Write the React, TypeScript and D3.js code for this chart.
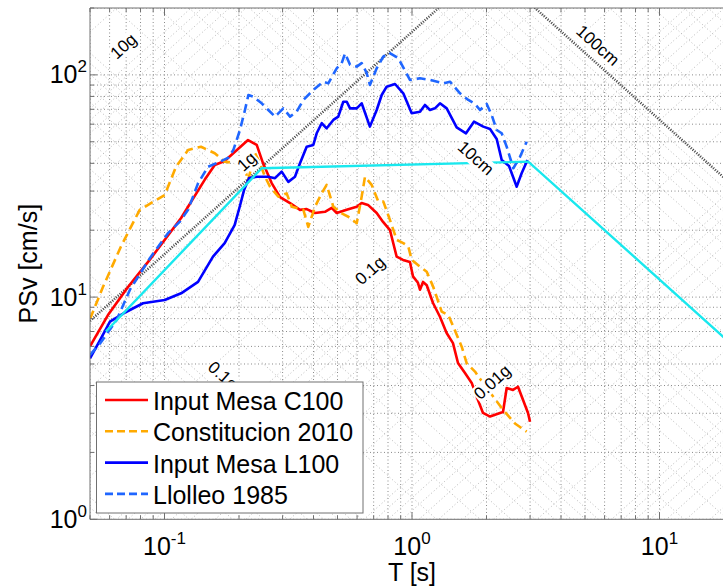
import React, { useEffect, useRef } from 'react';
import * as d3 from 'd3';

// periods T [s] and pseudo-velocity PSv [cm/s]
const c100T = [0.05, 0.0591, 0.0712, 0.0871, 0.1167, 0.1453, 0.1596, 0.175, 0.2175, 0.2358, 0.25, 0.271, 0.293, 0.3215, 0.3527, 0.3754, 0.4055, 0.445, 0.4737, 0.4963, 0.5445, 0.5978, 0.626, 0.664, 0.72, 0.764, 0.815, 0.867, 0.92, 0.981, 1.009, 1.057, 1.077, 1.108, 1.147, 1.216, 1.297, 1.38, 1.464, 1.534, 1.637, 1.743, 1.848, 1.936, 2.067, 2.268, 2.332, 2.413, 2.559, 2.681, 2.943, 2.998];
const c100V = [6.0, 8.3, 11.1, 14.7, 22.7, 33.7, 39.3, 41.0, 50.9, 48.4, 40.1, 32.6, 28.2, 26.5, 24.7, 24.9, 23.9, 24.2, 25.2, 23.9, 24.7, 25.5, 26.5, 26.0, 23.9, 21.8, 20.0, 15.2, 14.7, 14.4, 12.4, 11.6, 10.8, 11.7, 11.3, 9.41, 8.16, 6.89, 6.21, 5.05, 4.55, 4.11, 3.44, 3.01, 2.9, 3.01, 3.04, 3.9, 3.82, 3.95, 3.01, 2.75];

const consT = [0.05, 0.0564, 0.0667, 0.0794, 0.1002, 0.1113, 0.1245, 0.1404, 0.1596, 0.175, 0.196, 0.2076, 0.2175, 0.2322, 0.2432, 0.2547, 0.2668, 0.2884, 0.3116, 0.3266, 0.364, 0.381, 0.4055, 0.4315, 0.452, 0.481, 0.52, 0.553, 0.598, 0.626, 0.6457, 0.687, 0.731, 0.766, 0.815, 0.867, 0.922, 0.966, 0.997, 1.077, 1.147, 1.219, 1.318, 1.402, 1.469, 1.588, 1.663, 1.797, 1.941, 2.131, 2.339, 2.606, 2.906];
const consV = [7.97, 11.1, 16.9, 24.7, 28.8, 38.6, 45.9, 47.5, 44.4, 40.7, 40.0, 40.7, 33.5, 44.4, 40.0, 34.8, 31.4, 28.3, 29.3, 25.5, 24.7, 20.7, 25.5, 29.3, 32.0, 25.5, 23.8, 23.0, 21.5, 28.3, 34.8, 32.0, 26.9, 26.9, 22.2, 18.1, 17.5, 16.9, 14.7, 13.7, 13.0, 11.1, 8.6, 8.3, 7.36, 5.98, 5.04, 4.62, 4.09, 3.56, 3.1, 2.7, 2.48];

const l100T = [0.05, 0.0549, 0.0602, 0.0699, 0.0819, 0.1002, 0.1167, 0.1366, 0.157, 0.175, 0.192, 0.2013, 0.2096, 0.2195, 0.2364, 0.2627, 0.2796, 0.2975, 0.3164, 0.3366, 0.3527, 0.3754, 0.3993, 0.412, 0.4317, 0.452, 0.481, 0.5037, 0.5277, 0.545, 0.5619, 0.598, 0.626, 0.676, 0.72, 0.7544, 0.79, 0.854, 0.922, 0.997, 1.077, 1.128, 1.182, 1.238, 1.297, 1.381, 1.515, 1.653, 1.78, 1.941, 2.067, 2.199, 2.304, 2.466, 2.649, 2.773, 2.928];
const l100V = [5.3, 6.4, 7.75, 8.57, 9.38, 9.7, 10.4, 11.7, 15.2, 17.5, 21.1, 25.5, 30.3, 34.3, 34.8, 34.8, 34.3, 36.7, 33.0, 34.8, 40.0, 47.5, 48.4, 54.6, 60.6, 57.5, 62.7, 64.9, 75.7, 75.7, 70.7, 70.7, 74.5, 58.5, 69.5, 81.2, 88.5, 91.0, 82.6, 67.2, 68.3, 73.2, 69.5, 70.7, 74.5, 70.7, 58.0, 54.6, 61.6, 58.5, 57.1, 51.5, 41.4, 38.9, 31.4, 36.1, 41.4];

const lloT = [0.05, 0.0549, 0.0641, 0.0725, 0.0874, 0.1033, 0.1151, 0.1245, 0.1366, 0.15, 0.1676, 0.1806, 0.1897, 0.2018, 0.2114, 0.2182, 0.2285, 0.247, 0.2627, 0.2796, 0.302, 0.3215, 0.342, 0.364, 0.3993, 0.4383, 0.459, 0.4963, 0.52, 0.5364, 0.562, 0.598, 0.626, 0.656, 0.676, 0.72, 0.766, 0.807, 0.88, 0.981, 1.077, 1.182, 1.338, 1.424, 1.563, 1.689, 1.797, 1.883, 2.004, 2.099, 2.199, 2.304, 2.413, 2.567, 2.732, 2.906];
const lloV = [5.49, 6.19, 7.89, 10.8, 15.0, 19.4, 21.8, 24.7, 32.5, 38.6, 40.7, 42.3, 45.9, 56.5, 69.5, 81.2, 79.8, 74.5, 69.5, 64.9, 70.7, 64.9, 68.3, 77.1, 85.5, 93.2, 91.6, 107, 113, 125, 111, 109, 113, 102, 90.1, 107, 121, 126, 119, 94.9, 96.5, 94.9, 91.6, 93.2, 82.6, 77.1, 74.0, 69.5, 74.0, 66.0, 56.5, 54.6, 47.5, 38.0, 42.8, 50.0];

// design spectrum (cyan)
const designT = [0.058, 0.247, 2.95, 20];
const designV = [7.0, 38.0, 40.7, 6.0];

const legendNames = ['Input Mesa C100', 'Constitucion 2010', 'Input Mesa L100', 'Llolleo 1985'];

const xTicks = [0.1, 1, 10];
const xTickExp = ['-1', '0', '1'];
const yTicks = [1, 10, 100];
const yTickExp = ['0', '1', '2'];

// tripartite annotations (text, where it sits in T / PSv)
const diagText = ['10g', '1g', '0.1g', '0.01g', '10cm', '100cm', '0.1cm'];
const diagT = [0.0681, 0.2144, 0.676, 2.105, 1.814, 5.64, 0.1806];
const diagV = [134.9, 40.8, 13.2, 4.15, 42.3, 136, 4.24];

const G = 981; // cm/s2

function App() {
  const ref = useRef(null);

  useEffect(() => {
    const svg = d3.select(ref.current);
    svg.selectAll('*').remove();

    const left = 90, right = 734, top = 8, bottom = 519.3;
    const x = d3.scaleLog().domain([0.05, 20]).range([left, right]);
    const y = d3.scaleLog().domain([1, 200]).range([bottom, top]);
    const font = '"Liberation Sans", Arial, sans-serif';

    svg.append('rect').attr('width', 723).attr('height', 588).attr('fill', '#fff');

    svg.append('clipPath').attr('id', 'plotclip')
      .append('rect').attr('x', left).attr('y', top)
      .attr('width', right - left).attr('height', bottom - top);

    const plot = svg.append('g').attr('clip-path', 'url(#plotclip)');

    // minor/major positions for grid
    const xGrid = [];
    const yGrid = [];
    for (let e = -2; e <= 2; e++) {
      for (let k = 1; k <= 9; k++) {
        const v = k * Math.pow(10, e);
        if (v >= 0.05 && v <= 20) xGrid.push(v);
        if (v >= 1 && v <= 200) yGrid.push(v);
      }
    }

    plot.selectAll('.vgrid').data(xGrid).enter().append('line')
      .attr('x1', d => x(d)).attr('x2', d => x(d))
      .attr('y1', top).attr('y2', bottom)
      .attr('stroke', '#8a8a8a').attr('stroke-width', 1).attr('stroke-dasharray', '1,2.5');
    plot.selectAll('.hgrid').data(yGrid).enter().append('line')
      .attr('y1', d => y(d)).attr('y2', d => y(d))
      .attr('x1', left).attr('x2', right)
      .attr('stroke', '#8a8a8a').attr('stroke-width', 1).attr('stroke-dasharray', '1,2.5');

    // tripartite diagonals: constant acceleration (g) and displacement (cm)
    const accVals = [];
    const dispVals = [];
    for (let e = -4; e <= 3; e++) {
      for (let k = 1; k <= 9; k++) {
        accVals.push(k * Math.pow(10, e));
        dispVals.push(k * Math.pow(10, e));
      }
    }
    const accLine = a => [[0.05, a * G * 0.05 / (2 * Math.PI)], [20, a * G * 20 / (2 * Math.PI)]];
    const dispLine = dd => [[0.05, 2 * Math.PI * dd / 0.05], [20, 2 * Math.PI * dd / 20]];
    const seg = d3.line().x(d => x(d[0])).y(d => y(d[1]));

    plot.selectAll('.agrid').data(accVals).enter().append('path')
      .attr('d', d => seg(accLine(d)))
      .attr('fill', 'none').attr('stroke', '#b8b8b8').attr('stroke-width', 1).attr('stroke-dasharray', '1,2.5');
    plot.selectAll('.dgrid').data(dispVals).enter().append('path')
      .attr('d', d => seg(dispLine(d)))
      .attr('fill', 'none').attr('stroke', '#b8b8b8').attr('stroke-width', 1).attr('stroke-dasharray', '1,2.5');

    // highlighted 1g and 100cm lines
    plot.append('path').attr('d', seg(accLine(1)))
      .attr('fill', 'none').attr('stroke', '#444').attr('stroke-width', 2.6).attr('stroke-dasharray', '1,1.5');
    plot.append('path').attr('d', seg(dispLine(100)))
      .attr('fill', 'none').attr('stroke', '#444').attr('stroke-width', 2.6).attr('stroke-dasharray', '1,1.5');

    // spectra
    const spec = d3.line().x(d => x(d[0])).y(d => y(d[1]));
    const series = [
      { t: c100T, v: c100V, color: '#ff0000', dash: null },
      { t: consT, v: consV, color: '#ffaa00', dash: '9,5' },
      { t: l100T, v: l100V, color: '#0000ff', dash: null },
      { t: lloT, v: lloV, color: '#1f66ff', dash: '9,5' },
    ];
    series.forEach(s => {
      plot.append('path')
        .datum(s.t.map((t, i) => [t, s.v[i]]))
        .attr('d', spec)
        .attr('fill', 'none')
        .attr('stroke', s.color)
        .attr('stroke-width', 2.6)
        .attr('stroke-linejoin', 'round')
        .attr('stroke-dasharray', s.dash);
    });
    plot.append('path')
      .datum(designT.map((t, i) => [t, designV[i]]))
      .attr('d', spec)
      .attr('fill', 'none').attr('stroke', '#19e8ee').attr('stroke-width', 2.4);

    // diagonal labels with white background
    const ang = Math.atan2(y(1) - y(10), x(10) - x(1)) * 180 / Math.PI;
    diagText.forEach((txt, i) => {
      const isAcc = txt.endsWith('g');
      const g = plot.append('g')
        .attr('transform', `translate(${x(diagT[i])},${y(diagV[i])}) rotate(${isAcc ? -ang : ang})`);
      const rect = g.append('rect').attr('fill', '#fff');
      const t = g.append('text')
        .attr('text-anchor', 'middle')
        .attr('dy', '0.35em')
        .attr('font-family', font)
        .attr('font-size', 17)
        .attr('fill', '#000')
        .text(txt);
      const bb = t.node().getBBox();
      rect.attr('x', bb.x - 1).attr('y', bb.y + 1).attr('width', bb.width + 2).attr('height', bb.height - 2);
    });

    // axes box + ticks
    const axc = '#707070';
    svg.append('line').attr('x1', left).attr('x2', right).attr('y1', bottom).attr('y2', bottom).attr('stroke', axc);
    svg.append('line').attr('x1', left).attr('x2', right).attr('y1', top).attr('y2', top).attr('stroke', axc);
    svg.append('line').attr('x1', left).attr('x2', left).attr('y1', top).attr('y2', bottom).attr('stroke', axc);
    svg.append('line').attr('x1', right).attr('x2', right).attr('y1', top).attr('y2', bottom).attr('stroke', axc);

    xGrid.forEach(v => {
      const len = xTicks.includes(v) ? 7 : 4;
      svg.append('line').attr('x1', x(v)).attr('x2', x(v)).attr('y1', bottom).attr('y2', bottom - len).attr('stroke', axc);
      svg.append('line').attr('x1', x(v)).attr('x2', x(v)).attr('y1', top).attr('y2', top + len).attr('stroke', axc);
    });
    yGrid.forEach(v => {
      const len = yTicks.includes(v) ? 7 : 4;
      svg.append('line').attr('y1', y(v)).attr('y2', y(v)).attr('x1', left).attr('x2', left + len).attr('stroke', axc);
    });

    // legend
    const lg = svg.append('g');
    lg.append('rect').attr('x', 96.5).attr('y', 382).attr('width', 266.5).attr('height', 131)
      .attr('fill', '#fff').attr('stroke', axc).attr('stroke-width', 1);
    legendNames.forEach((name, i) => {
      const s = series[i];
      const base = 410 + i * 31.3;
      lg.append('line').attr('x1', 105).attr('x2', 148).attr('y1', base - 10).attr('y2', base - 10)
        .attr('stroke', s.color).attr('stroke-width', 2.6).attr('stroke-dasharray', s.dash ? '8,4' : null);
      lg.append('text').attr('x', 153).attr('y', base)
        .attr('font-family', font).attr('font-size', 25).attr('fill', '#000').text(name);
    });

    // tick labels
    xTicks.forEach((v, i) => {
      const t = svg.append('text').attr('x', x(v)).attr('y', 555)
        .attr('text-anchor', 'middle').attr('font-family', font).attr('font-size', 25).attr('fill', '#000');
      t.append('tspan').text('10');
      t.append('tspan').attr('dy', -11).attr('font-size', 17).text(xTickExp[i]);
    });
    yTicks.forEach((v, i) => {
      const t = svg.append('text').attr('x', 87).attr('y', y(v) + 8.5)
        .attr('text-anchor', 'end').attr('font-family', font).attr('font-size', 25).attr('fill', '#000');
      t.append('tspan').text('10');
      t.append('tspan').attr('dy', -11).attr('font-size', 17).text(yTickExp[i]);
    });

    // axis titles
    svg.append('text').attr('x', x(1)).attr('y', 581).attr('text-anchor', 'middle')
      .attr('font-family', font).attr('font-size', 25).attr('fill', '#000').text('T [s]');
    svg.append('text').attr('transform', `translate(37,${(top + bottom) / 2}) rotate(-90)`)
      .attr('text-anchor', 'middle')
      .attr('font-family', font).attr('font-size', 25).attr('fill', '#000').text('PSv [cm/s]');
  }, []);

  return (
    <svg ref={ref} width={723} height={588}
      style={{ position: 'absolute', left: 0, top: 0, display: 'block' }} />
  );
}

export default App;
